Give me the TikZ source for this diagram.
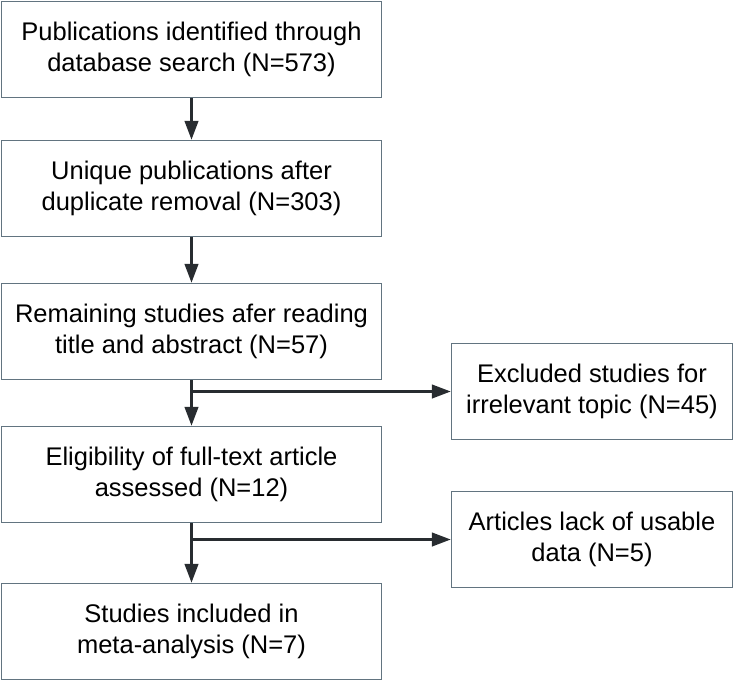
\documentclass[tikz,border=0pt]{standalone}
\usepackage{fontspec}
\setmainfont{Liberation Sans}
\usetikzlibrary{arrows.meta}
\definecolor{boxline}{RGB}{98,116,128}
\definecolor{arrowline}{RGB}{40,44,48}

\begin{document}
\begin{tikzpicture}[x=1pt, y=-1pt,
    stage/.style={rectangle, draw=boxline, line width=1.4pt, align=center,
    minimum width=380pt, minimum height=96pt, inner sep=0pt,
    font=\fontsize{25.5}{31}\selectfont},
    exclude/.style={stage, minimum width=281pt},
    flow/.style={draw=arrowline, line width=2.8pt,
    -{Triangle[length=19pt,width=13.5pt]}}]
    \useasboundingbox (0,0) rectangle (734,681);
    \node[stage] (S1) at (191.5,49.5) {Publications identified through\\database search (N=573)};
    \node[stage] (S2) at (191.5,188.5) {Unique publications after\\duplicate removal (N=303)};
    \node[stage] (S3) at (191.5,331.5) {Remaining studies afer reading\\title and abstract (N=57)};
    \node[stage] (S4) at (191.5,474.5) {Eligibility of full-text article\\assessed (N=12)};
    \node[stage] (S5) at (191.5,631.5) {Studies included in\\meta-analysis (N=7)};
    \node[exclude] (E1) at (592,391.5) {Excluded studies for\\irrelevant topic (N=45)};
    \node[exclude] (E2) at (592,539.5) {Articles lack of usable\\data (N=5)};
    \draw[flow] (S1) -- (S2);
    \draw[flow] (S2) -- (S3);
    \draw[flow] (S3) -- (S4);
    \draw[flow] (S4) -- (S5);
    \draw[flow] (S3.south |- E1.west) -- (E1.west);
    \draw[flow] (S4.south |- E2.west) -- (E2.west);
\end{tikzpicture}
\end{document}
